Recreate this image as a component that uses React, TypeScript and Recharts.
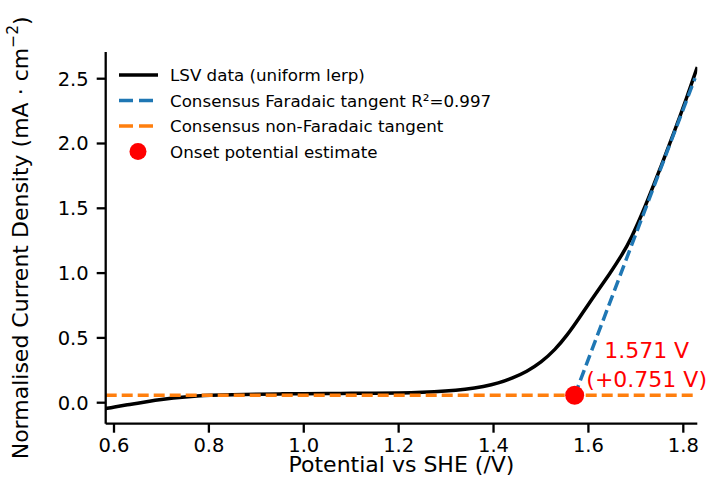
import React from 'react';
import { LineChart, Line, XAxis, YAxis, ReferenceDot } from 'recharts';

const LSV_V = [0.5825, 0.6, 0.625, 0.65, 0.675, 0.7, 0.725, 0.75, 0.775, 0.8, 0.85, 0.9, 0.95, 1.0, 1.05, 1.1, 1.15, 1.2, 1.25, 1.3, 1.34, 1.38, 1.41, 1.44, 1.47, 1.5, 1.53, 1.555, 1.58, 1.61, 1.646, 1.67, 1.69, 1.72, 1.75, 1.78, 1.805, 1.8295];
const LSV_I = [-0.045, -0.033, -0.018, -0.005, 0.012, 0.025, 0.036, 0.045, 0.052, 0.057, 0.062, 0.066, 0.068, 0.07, 0.071, 0.072, 0.073, 0.075, 0.08, 0.09, 0.103, 0.125, 0.15, 0.19, 0.24, 0.31, 0.41, 0.52, 0.65, 0.815, 1.0, 1.135, 1.265, 1.515, 1.795, 2.08, 2.33, 2.59];

const FARADAIC_V = [1.571, 1.8247];
const FARADAIC_I = [0.057, 2.505];

const NONFARADAIC_V = [0.5825, 1.827];
const NONFARADAIC_I = [0.057, 0.057];

const ONSET_V = 1.571;
const ONSET_I = 0.057;
const ONSET_LINES = ['1.571 V', '(+0.751 V)'];

const X_TICKS = [0.6, 0.8, 1.0, 1.2, 1.4, 1.6, 1.8];
const Y_TICKS = [0, 0.5, 1.0, 1.5, 2.0, 2.5];

const LEGEND_LABELS = [
  'LSV data (uniform lerp)',
  'Consensus Faradaic tangent R\u00b2=0.997',
  'Consensus non-Faradaic tangent',
  'Onset potential estimate',
];

const lsvData = LSV_V.map((v, i) => ({ v, i: LSV_I[i] }));
const faradaicData = FARADAIC_V.map((v, i) => ({ v, i: FARADAIC_I[i] }));
const nonFaradaicData = NONFARADAIC_V.map((v, i) => ({ v, i: NONFARADAIC_I[i] }));

const FONT = '"DejaVu Sans", sans-serif';
const BLUE = '#1f77b4';
const ORANGE = '#ff7f0e';

const OnsetLabel = (props: any) => {
  const vb = props.viewBox || {};
  const cx = vb.x + (vb.width || 0) / 2;
  const cy = vb.y + (vb.height || 0) / 2;
  return (
    <g>
      <text x={cx + 72} y={cy - 37} textAnchor="middle" fill="#ff0000" fontSize={22} fontFamily={FONT}>
        {ONSET_LINES[0]}
      </text>
      <text x={cx + 72} y={cy - 8.5} textAnchor="middle" fill="#ff0000" fontSize={22} fontFamily={FONT}>
        {ONSET_LINES[1]}
      </text>
    </g>
  );
};

const LegendBox = () => {
  const rowH = 25.5;
  return (
    <svg width={400} height={rowH * 4} style={{ position: 'absolute', left: 115, top: 62, display: 'block' }}>
      {LEGEND_LABELS.map((lab, k) => {
        const y = rowH * k + 13;
        let sample: React.ReactNode = null;
        if (k === 0) sample = <line x1={4} x2={43} y1={y} y2={y} stroke="#000" strokeWidth={3.5} />;
        if (k === 1) sample = <line x1={4} x2={43} y1={y} y2={y} stroke={BLUE} strokeWidth={3.5} strokeDasharray="14 6" />;
        if (k === 2) sample = <line x1={4} x2={43} y1={y} y2={y} stroke={ORANGE} strokeWidth={3.5} strokeDasharray="14 6" />;
        if (k === 3) sample = <circle cx={23} cy={y} r={8.5} fill="#ff0000" />;
        return (
          <g key={k}>
            {sample}
            <text x={55} y={y + 6} fontSize={16.7} fontFamily={FONT} fill="#000">{lab}</text>
          </g>
        );
      })}
    </svg>
  );
};

const YLabel = (props: any) => {
  const vb = props.viewBox || {};
  const cx = 21;
  const cy = vb.y + vb.height / 2;
  return (
    <text x={cx} y={cy} transform={`rotate(-90 ${cx} ${cy})`} textAnchor="middle" dominantBaseline="central" fontSize={22} fontFamily={FONT} fill="#000">
      Normalised Current Density (mA · cm
      <tspan dy={-8} fontSize={15.5}>{'\u22122'}</tspan>
      <tspan dy={8}>)</tspan>
    </text>
  );
};

const XLabel = (props: any) => {
  const vb = props.viewBox || {};
  const cx = vb.x + vb.width / 2;
  return (
    <text x={cx} y={472} textAnchor="middle" fontSize={22} fontFamily={FONT} fill="#000">
      Potential vs SHE (/V)
    </text>
  );
};

export default function App() {
  return (
    <div style={{ position: 'absolute', left: 0, top: 0, width: 711, height: 502, background: '#fff' }}>
      <LineChart
        width={711}
        height={502}
        margin={{ top: 52, right: 13.7, bottom: 0, left: 0 }}
      >
        <XAxis
          type="number"
          dataKey="v"
          domain={[0.5825, 1.8295]}
          ticks={X_TICKS}
          allowDataOverflow
          height={78.3}
          tickFormatter={(t: number) => t.toFixed(1)}
          tick={{ fontSize: 19.5, fontFamily: FONT, fill: '#000' }}
          tickSize={9}
          tickMargin={5}
          axisLine={{ stroke: '#000', strokeWidth: 2.3 }}
          tickLine={{ stroke: '#000', strokeWidth: 2.3 }}
          label={<XLabel />}
        />
        <YAxis
          type="number"
          dataKey="i"
          domain={[-0.162, 2.706]}
          ticks={Y_TICKS}
          allowDataOverflow
          width={105.7}
          tickFormatter={(t: number) => t.toFixed(1)}
          tick={{ fontSize: 19.5, fontFamily: FONT, fill: '#000' }}
          tickSize={9}
          tickMargin={8}
          axisLine={{ stroke: '#000', strokeWidth: 2.3 }}
          tickLine={{ stroke: '#000', strokeWidth: 2.3 }}
          label={<YLabel />}
        />
        <Line data={lsvData} dataKey="i" type="basis" stroke="#000" strokeWidth={3.5} dot={false} isAnimationActive={false} />
        <Line data={faradaicData} dataKey="i" type="linear" stroke={BLUE} strokeWidth={3.5} strokeDasharray="11 5" dot={false} isAnimationActive={false} />
        <Line data={nonFaradaicData} dataKey="i" type="linear" stroke={ORANGE} strokeWidth={3.5} strokeDasharray="11 5" dot={false} isAnimationActive={false} />
        <ReferenceDot x={ONSET_V} y={ONSET_I} r={9.5} fill="#ff0000" stroke="none" label={<OnsetLabel />} ifOverflow="extendDomain" />
      </LineChart>
      <LegendBox />
    </div>
  );
}
